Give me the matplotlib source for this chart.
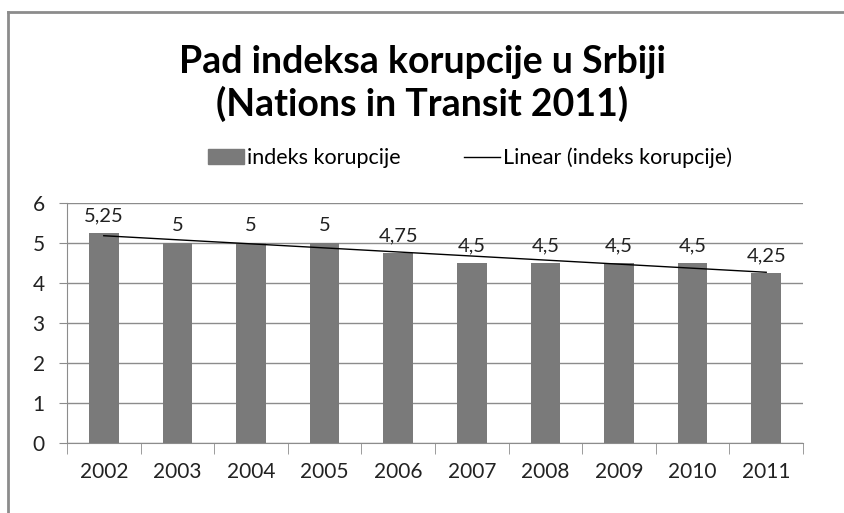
import numpy as np
import matplotlib.pyplot as plt
import matplotlib.lines as mlines
import matplotlib.patches as mpatches

# === data ===
years = ['2002', '2003', '2004', '2005', '2006', '2007', '2008', '2009', '2010', '2011']
index_vals = [5.25, 5, 5, 5, 4.75, 4.5, 4.5, 4.5, 4.5, 4.25]
value_labels = ['5,25', '5', '5', '5', '4,75', '4,5', '4,5', '4,5', '4,5', '4,25']

plt.rcParams['font.family'] = ['Lato', 'DejaVu Sans']

fig = plt.figure(figsize=(8.44, 5.13), dpi=100)
W, H = 844, 513

# frame lines (chart border, cut at right/bottom)
fig.add_artist(mlines.Line2D([8 / W, 8 / W], [0, 1 - 12 / H], color='#8c8c8c', lw=2))
fig.add_artist(mlines.Line2D([8 / W, 1], [1 - 12 / H, 1 - 12 / H], color='#8c8c8c', lw=2))

# plot area
ax = fig.add_axes([67 / W, 1 - 443 / H, (803 - 67) / W, (443 - 203) / H])
x = np.arange(len(years))
ax.bar(x, index_vals, width=0.4, color='#7a7a7a', zorder=2)

# linear trend
k, b = np.polyfit(x, index_vals, 1)
ax.plot(x, k * x + b, color='black', lw=1, zorder=3)

for xi, v, lab in zip(x, index_vals, value_labels):
    ax.text(xi, v + 0.22, lab, ha='center', va='bottom', fontsize=14.5, color='#222222')

ax.set_xlim(-0.5, len(years) - 0.5)
ax.set_ylim(0, 6)
ax.set_yticks(range(7))
ax.yaxis.grid(True, color='#8c8c8c', lw=1)
ax.set_axisbelow(True)
for s in ['top', 'right']:
    ax.spines[s].set_visible(False)
ax.spines['left'].set_color('#8c8c8c')
ax.spines['bottom'].set_color('#8c8c8c')
ax.tick_params(axis='y', length=6, color='#8c8c8c', labelsize=15, pad=10, labelcolor='#222222')
ax.set_xticks(x)
ax.set_xticklabels(years)
ax.set_xticks(np.arange(-0.5, len(years)), minor=True)
ax.tick_params(axis='x', which='major', length=0, labelsize=15, pad=14, labelcolor='#222222')
ax.tick_params(axis='x', which='minor', length=8, color='#8c8c8c')

# title
fig.text(0.5, 1 - 62 / H, 'Pad indeksa korupcije u Srbiji', ha='center', va='center',
         fontsize=27, fontweight='bold', color='black')
fig.text(0.5, 1 - 104 / H, '(Nations in Transit 2011)', ha='center', va='center',
         fontsize=27, fontweight='bold', color='black')

# legend
handles = [mpatches.Patch(color='#7a7a7a', label='indeks korupcije'),
           mlines.Line2D([], [], color='black', lw=1, label='Linear (indeks korupcije)')]
fig.legend(handles=handles, loc='center', bbox_to_anchor=(470 / W, 1 - 158 / H), ncol=2,
           frameon=False, fontsize=15.5, handlelength=1.7, handleheight=0.7,
           columnspacing=2.9, handletextpad=0.15)

plt.savefig('out.png', dpi=100)
